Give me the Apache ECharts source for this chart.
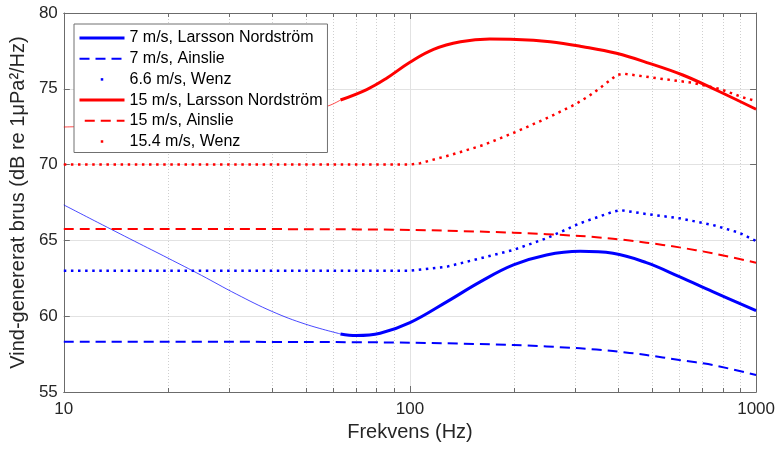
<!DOCTYPE html>
<html>
<head>
<meta charset="utf-8">
<script src="https://cdn.jsdelivr.net/npm/echarts@6/dist/echarts.min.js"></script>
<style>
  html, body { margin: 0; padding: 0; background: #ffffff; }
  #chart { width: 778px; height: 450px; }
</style>
</head>
<body>
<div id="chart"></div>
<script>
// Axis ranges: frequency (Hz, log) and level (dB re 1 µPa²/Hz)
const FREQ_MIN = 10, FREQ_MAX = 1000;
const LEVEL_MIN = 55, LEVEL_MAX = 80, LEVEL_STEP = 5;
const minorFreqs = [20, 30, 40, 50, 60, 70, 80, 90, 200, 300, 400, 500, 600, 700, 800, 900];

// 7 m/s, Larsson Nordström: thin part below 63 Hz, thick part from 63 Hz
const ln7LowFreq  = [10, 12.5, 16, 20, 25, 31.5, 40, 50, 63];
const ln7LowLevel = [67.34, 66.20, 64.95, 63.83, 62.69, 61.46, 60.31, 59.47, 58.83];
const ln7Freq  = [63, 70, 82, 100, 128, 160, 199, 248, 310, 386, 482, 600, 749, 1000];
const ln7Level = [58.83, 58.72, 58.87, 59.57, 60.96, 62.28, 63.38, 64.04, 64.28, 64.15, 63.53, 62.61, 61.62, 60.36];

// 7 m/s, Ainslie
const a7Freq  = [10, 50, 100, 199, 310, 386, 482, 600, 749, 1000];
const a7Level = [58.32, 58.30, 58.25, 58.10, 57.88, 57.70, 57.44, 57.11, 56.78, 56.12];

// 6.6 m/s, Wenz
const w66Freq  = [10, 100, 128, 160, 199, 248, 310, 386, 405, 482, 600, 749, 893, 1000];
const w66Level = [63.0, 63.0, 63.27, 63.82, 64.37, 65.14, 66.13, 66.89, 67.0, 66.74, 66.46, 66.02, 65.51, 64.96];

// 15 m/s, Larsson Nordström: thin part below 63 Hz, thick part from 63 Hz
const ln15LowFreq  = [10, 13, 20, 30, 40, 50, 58, 63];
const ln15LowLevel = [72.48, 72.55, 72.70, 72.90, 73.20, 73.55, 73.87, 74.26];
const ln15Freq  = [63, 75, 85, 100, 117, 140, 170, 203, 254, 316, 395, 492, 614, 766, 1000];
const ln15Level = [74.26, 74.95, 75.65, 76.75, 77.60, 78.10, 78.28, 78.26, 78.11, 77.78, 77.34, 76.68, 75.91, 74.92, 73.65];

// 15 m/s, Ainslie
const a15Freq  = [10, 50, 100, 199, 310, 386, 482, 600, 749, 1000];
const a15Level = [65.76, 65.74, 65.69, 65.51, 65.29, 65.11, 64.85, 64.54, 64.15, 63.53];

// 15.4 m/s, Wenz
const w154Freq  = [10, 100, 107, 131, 163, 203, 254, 300, 330, 360, 396, 414, 520, 655, 786, 914, 1000];
const w154Level = [70.0, 70.0, 70.09, 70.63, 71.29, 72.17, 73.16, 73.97, 74.54, 75.18, 75.91, 76.0, 75.69, 75.40, 74.99, 74.44, 74.19];

const BLUE = '#0000ff', RED = '#ff0000';
const AXIS_COLOR = '#6b6b6b', TEXT_COLOR = '#262626';
const DASH = [10, 6], DOT = [2.5, 4.6];

const pairs = (xs, ys) => xs.map((x, i) => [x, ys[i]]);

function lineSeries(name, xs, ys, color, width, dash, smooth, opacity) {
  return {
    name: name,
    type: 'line',
    data: pairs(xs, ys),
    symbol: 'none',
    smooth: smooth,
    silent: true,
    lineStyle: { color: color, width: width, type: dash || 'solid', cap: 'butt', opacity: opacity == null ? 1 : opacity },
    itemStyle: { color: color },
    z: 3
  };
}

const names = [
  '7 m/s, Larsson Nordström',
  '7 m/s, Ainslie',
  '6.6 m/s, Wenz',
  '15 m/s, Larsson Nordström',
  '15 m/s, Ainslie',
  '15.4 m/s, Wenz'
];

// one dot in the middle of a 45 px legend sample
const legendDot = { type: [2.5, 100], dashOffset: -21.25 };

const chart = echarts.init(document.getElementById('chart'), null, { renderer: 'canvas' });

const baseX = {
  type: 'log', logBase: 10, min: FREQ_MIN, max: FREQ_MAX,
  axisLine: { show: true, onZero: false, lineStyle: { color: AXIS_COLOR, width: 1 } },
  axisTick: { show: true, inside: true, length: 6, lineStyle: { color: AXIS_COLOR } }
};
const baseY = {
  type: 'value', min: LEVEL_MIN, max: LEVEL_MAX, interval: LEVEL_STEP,
  axisLine: { show: true, onZero: false, lineStyle: { color: AXIS_COLOR, width: 1 } },
  axisTick: { show: true, inside: true, length: 6, lineStyle: { color: AXIS_COLOR } }
};

chart.setOption({
  animation: false,
  backgroundColor: '#ffffff',
  textStyle: { fontFamily: 'Liberation Sans, Arial, Helvetica, sans-serif' },
  grid: { left: 62, right: 21, top: 13, bottom: 58, containLabel: false },
  xAxis: [
    Object.assign({}, baseX, {
      position: 'bottom',
      name: 'Frekvens (Hz)',
      nameLocation: 'middle',
      nameGap: 30,
      nameTextStyle: { fontSize: 20, color: TEXT_COLOR },
      axisLabel: { fontSize: 17, color: TEXT_COLOR, margin: 9, formatter: v => String(Math.round(v)) },
      splitLine: { show: true, lineStyle: { color: '#e2e2e2', width: 1 } }
    }),
    Object.assign({}, baseX, {
      position: 'top',
      axisLabel: { show: false },
      splitLine: { show: false }
    })
  ],
  yAxis: [
    Object.assign({}, baseY, {
      position: 'left',
      name: 'Vind-genererat brus (dB re 1μPa²/Hz)',
      nameLocation: 'middle',
      nameGap: 28,
      nameTextStyle: { fontSize: 20, color: TEXT_COLOR },
      axisLabel: { fontSize: 17, color: TEXT_COLOR, margin: 6 },
      splitLine: { show: true, lineStyle: { color: '#e2e2e2', width: 1 } }
    }),
    Object.assign({}, baseY, {
      position: 'right',
      axisLabel: { show: false },
      splitLine: { show: false }
    })
  ],
  legend: {
    orient: 'vertical',
    left: 74,
    top: 24,
    padding: [6, 5, 3, 4],
    itemWidth: 45,
    itemHeight: 14,
    itemGap: 4.7,
    backgroundColor: '#ffffff',
    borderColor: '#707070',
    borderWidth: 1,
    borderRadius: 0,
    selectedMode: false,
    textStyle: { fontSize: 16, color: '#000000', lineHeight: 16 },
    itemStyle: { opacity: 0 },
    lineStyle: { width: 'inherit' },
    data: [
      { name: names[0] },
      { name: names[1] },
      { name: names[2], lineStyle: legendDot },
      { name: names[3] },
      { name: names[4] },
      { name: names[5], lineStyle: legendDot }
    ]
  },
  series: [
    // dotted minor grid lines and minor ticks of the log frequency axis
    {
      type: 'custom',
      silent: true,
      z: 1,
      data: minorFreqs.map(f => [f, LEVEL_MIN]),
      encode: { x: 0, y: 1 },
      renderItem: function (params, api) {
        const f = api.value(0);
        const b = api.coord([f, LEVEL_MIN]);
        const t = api.coord([f, LEVEL_MAX]);
        const x = Math.round(b[0]) + 0.5;
        return {
          type: 'group',
          children: [
            { type: 'line', shape: { x1: x, y1: b[1], x2: x, y2: t[1] },
              style: { stroke: '#cfcfcf', lineWidth: 1, lineDash: [1, 2] } },
            { type: 'line', shape: { x1: x, y1: b[1], x2: x, y2: b[1] - 4 },
              style: { stroke: AXIS_COLOR, lineWidth: 1 } },
            { type: 'line', shape: { x1: x, y1: t[1], x2: x, y2: t[1] + 4 },
              style: { stroke: AXIS_COLOR, lineWidth: 1 } }
          ]
        };
      }
    },
    lineSeries('7 m/s, Larsson Nordström (< 63 Hz)', ln7LowFreq, ln7LowLevel, BLUE, 0.8, null, 0.4, 0.9),
    lineSeries('15 m/s, Larsson Nordström (< 63 Hz)', ln15LowFreq, ln15LowLevel, RED, 0.8, null, 0.4, 0.9),
    lineSeries(names[0], ln7Freq, ln7Level, BLUE, 3, null, 0.4),
    lineSeries(names[1], a7Freq, a7Level, BLUE, 2, DASH, 0.3),
    lineSeries(names[2], w66Freq, w66Level, BLUE, 2.5, DOT, false),
    lineSeries(names[3], ln15Freq, ln15Level, RED, 3, null, 0.4),
    lineSeries(names[4], a15Freq, a15Level, RED, 2, DASH, 0.3),
    lineSeries(names[5], w154Freq, w154Level, RED, 2.5, DOT, false)
  ]
});
</script>
</body>
</html>
